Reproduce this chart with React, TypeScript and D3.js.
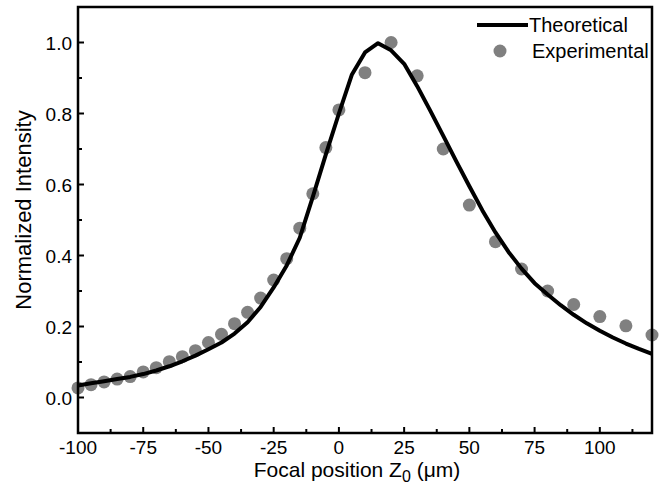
import React, { useEffect, useRef } from 'react';
import * as d3 from 'd3';

// Theoretical curve, sampled every 5 µm
const theoX = [
  -100, -95, -90, -85, -80, -75, -70, -65, -60, -55, -50, -45, -40, -35, -30, -25, -20, -15, -10, -5,
  0, 5, 10, 15, 20, 25, 30, 35, 40, 45, 50, 55, 60, 65, 70, 75, 80, 85, 90, 95, 100, 105, 110, 115, 120,
];
const theoY = [
  0.034, 0.04, 0.046, 0.052, 0.058, 0.066, 0.076, 0.088, 0.102, 0.118, 0.136, 0.155, 0.18, 0.212, 0.255,
  0.31, 0.372, 0.45, 0.565, 0.685, 0.8, 0.91, 0.972, 0.998, 0.978, 0.94, 0.877, 0.808, 0.737, 0.665,
  0.595, 0.527, 0.465, 0.41, 0.363, 0.322, 0.29, 0.26, 0.233, 0.209, 0.188, 0.169, 0.152, 0.137, 0.123,
];

// Experimental points
const expX = [
  -100, -95, -90, -85, -80, -75, -70, -65, -60, -55, -50, -45, -40, -35, -30, -25, -20, -15, -10, -5,
  0, 10, 20, 30, 40, 50, 60, 70, 80, 90, 100, 110, 120,
];
const expY = [
  0.027, 0.036, 0.044, 0.052, 0.059, 0.072, 0.084, 0.101, 0.115, 0.132, 0.155, 0.178, 0.208, 0.24, 0.28,
  0.331, 0.391, 0.477, 0.574, 0.704, 0.81, 0.915, 1.0, 0.906, 0.7, 0.542, 0.439, 0.362, 0.3, 0.262,
  0.228, 0.202, 0.176,
];

const xTicks = [-100, -75, -50, -25, 0, 25, 50, 75, 100];
const yTicks = [0.0, 0.2, 0.4, 0.6, 0.8, 1.0];

const App = () => {
  const svgRef = useRef<SVGSVGElement>(null);
  const width = 659;
  const height = 491;

  useEffect(() => {
    const svg = d3.select(svgRef.current);
    svg.selectAll('*').remove();

    const x = d3.scaleLinear().domain([-100, 120]).range([78, 652]);
    const y = d3.scaleLinear().domain([-0.1, 1.1]).range([433, 7]);
    const font = 'Arial, "Liberation Sans", Helvetica, sans-serif';

    const g = svg.append('g');

    // x axis ticks (inward)
    const xMinor = d3.range(-100, 121, 12.5);
    g.selectAll('.xminor')
      .data(xMinor)
      .enter()
      .append('line')
      .attr('x1', d => x(d))
      .attr('x2', d => x(d))
      .attr('y1', y(-0.1))
      .attr('y2', d => (xTicks.includes(d) ? y(-0.1) - 6 : y(-0.1) - 4))
      .attr('stroke', '#000')
      .attr('stroke-width', 2);

    g.selectAll('.xlabel')
      .data(xTicks)
      .enter()
      .append('text')
      .attr('x', d => x(d))
      .attr('y', 454)
      .attr('text-anchor', 'middle')
      .attr('font-family', font)
      .attr('font-size', 19)
      .text(d => String(d));

    // y axis ticks (inward)
    const yMinor = d3.range(-0.1, 1.101, 0.1).map(v => Math.round(v * 10) / 10);
    g.selectAll('.yminor')
      .data(yMinor)
      .enter()
      .append('line')
      .attr('x1', x(-100))
      .attr('x2', d => (yTicks.includes(d) ? x(-100) + 6 : x(-100) + 4))
      .attr('y1', d => y(d))
      .attr('y2', d => y(d))
      .attr('stroke', '#000')
      .attr('stroke-width', 2);

    g.selectAll('.ylabel')
      .data(yTicks)
      .enter()
      .append('text')
      .attr('x', 72)
      .attr('y', d => y(d) + 7)
      .attr('text-anchor', 'end')
      .attr('font-family', font)
      .attr('font-size', 19)
      .text(d => d3.format('.1f')(d));

    // experimental points
    g.selectAll('.pt')
      .data(expX.map((v, i) => [v, expY[i]]))
      .enter()
      .append('circle')
      .attr('cx', d => x(d[0]))
      .attr('cy', d => y(d[1]))
      .attr('r', 6.5)
      .attr('fill', '#808080');

    // theoretical curve
    const line = d3
      .line<number>()
      .x(d => x(d))
      .y((d, i) => y(theoY[i]));
    g.append('path')
      .datum(theoX)
      .attr('d', line)
      .attr('fill', 'none')
      .attr('stroke', '#000')
      .attr('stroke-width', 4)
      .attr('stroke-linejoin', 'round');

    // frame
    g.append('rect')
      .attr('x', x(-100))
      .attr('y', y(1.1))
      .attr('width', x(120) - x(-100))
      .attr('height', y(-0.1) - y(1.1))
      .attr('fill', 'none')
      .attr('stroke', '#000')
      .attr('stroke-width', 2.5);

    // legend
    const lg = g.append('g');
    lg.append('line')
      .attr('x1', 477)
      .attr('x2', 528)
      .attr('y1', 25)
      .attr('y2', 25)
      .attr('stroke', '#000')
      .attr('stroke-width', 4);
    lg.append('text')
      .attr('x', 529)
      .attr('y', 32)
      .attr('font-family', font)
      .attr('font-size', 20)
      .text('Theoretical');
    lg.append('circle').attr('cx', 500).attr('cy', 51).attr('r', 6.5).attr('fill', '#808080');
    lg.append('text')
      .attr('x', 532)
      .attr('y', 58)
      .attr('font-family', font)
      .attr('font-size', 20)
      .text('Experimental');

    // axis titles
    const xt = g
      .append('text')
      .attr('x', 357)
      .attr('y', 477)
      .attr('text-anchor', 'middle')
      .attr('font-family', font)
      .attr('font-size', 21);
    xt.append('tspan').text('Focal position Z');
    xt.append('tspan').attr('dy', 5).attr('font-size', 16).text('0');
    xt.append('tspan').attr('dy', -5).text(' (\u03bcm)');

    g.append('text')
      .attr('transform', 'translate(31, 210) rotate(-90)')
      .attr('text-anchor', 'middle')
      .attr('font-family', font)
      .attr('font-size', 22)
      .text('Normalized Intensity');
  }, []);

  return (
    <svg
      ref={svgRef}
      width={width}
      height={height}
      style={{ position: 'absolute', left: 0, top: 0, background: '#fff' }}
    />
  );
};

export default App;
